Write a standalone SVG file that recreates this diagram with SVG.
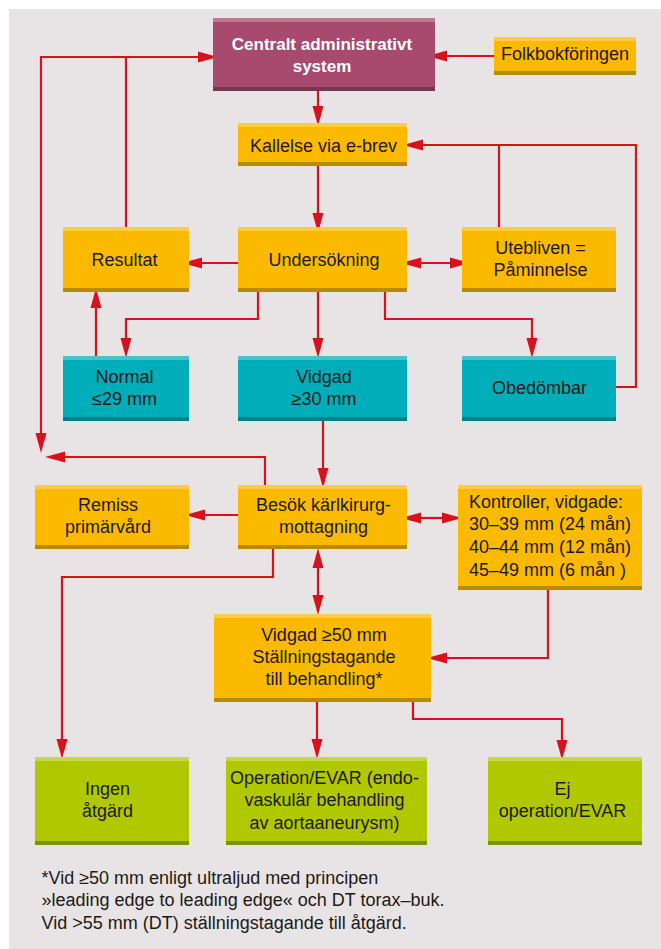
<svg xmlns="http://www.w3.org/2000/svg" width="661" height="949" viewBox="0 0 661 949">
<style>
.bg{fill:#e8e3e4}
.t{font-family:"Liberation Sans",Arial,sans-serif;font-size:18px;fill:#1c1a17;text-anchor:middle}
.tl{text-anchor:start}
.tb{font-weight:bold;font-size:17px;fill:#ffffff}
.y{fill:#fbb900}.yt{fill:#fdcc45}.yb{fill:#b98c00}
.c{fill:#00adb9}.ct{fill:#44c3cc}.cb{fill:#00808a}
.g{fill:#b0c800}.gt{fill:#c6d844}.gb{fill:#7f9300}
.m{fill:#a84a6e}.mt{fill:#c07891}.mb{fill:#7a3550}
.ln{fill:none;stroke:#d7121c;stroke-width:2.2;stroke-linejoin:miter}
.a{marker-end:url(#ah)}
.aa{marker-start:url(#ah);marker-end:url(#ah)}
</style>
<defs>
<marker id="ah" markerUnits="userSpaceOnUse" markerWidth="22" markerHeight="12" refX="2" refY="5.5" orient="auto-start-reverse" viewBox="0 0 22 11">
<path d="M0,0 L20,5.5 L0,11 z" fill="#d7121c"/>
</marker>
</defs>
<rect class="bg" x="9" y="9" width="652" height="940"/>

<g id="connectors">
<path class="ln a" d="M494,56 H445"/>
<path class="ln aa" d="M41,435 V57 H200"/>
<path class="ln" d="M126,227 V57"/>
<path class="ln a" d="M265,485 V457 H63"/>
<path class="ln a" d="M318,91 V108"/>
<path class="ln a" d="M318,166 V215"/>
<path class="ln a" d="M616,387 H636 V145 H421"/>
<path class="ln" d="M499,227 V145"/>
<path class="ln a" d="M238,263 H200"/>
<path class="ln aa" d="M419,263 H452"/>
<path class="ln a" d="M258,292 V319 H126 V340"/>
<path class="ln a" d="M318,292 V340"/>
<path class="ln a" d="M385,292 V319 H532 V340"/>
<path class="ln a" d="M96,356 V306"/>
<path class="ln a" d="M323,421 V470"/>
<path class="ln a" d="M238,515 H203"/>
<path class="ln aa" d="M419,518 H444"/>
<path class="ln a" d="M548,590 V658 H445"/>
<path class="ln aa" d="M318,566 V597"/>
<path class="ln a" d="M273,549 V577 H62 V741"/>
<path class="ln a" d="M317,702 V741"/>
<path class="ln a" d="M413,702 V719 H562 V742"/>
</g>

<g id="central">
<rect class="m" x="213" y="18" width="222" height="73"/>
<rect class="mt" x="213" y="18" width="222" height="4"/>
<rect class="mb" x="213" y="87" width="222" height="4"/>
<text class="t tb" x="322" y="49.5">Centralt administrativt</text>
<text class="t tb" x="322" y="72">system</text>
</g>

<g id="folkbok">
<rect class="y" x="494" y="37" width="142" height="38"/>
<rect class="yt" x="494" y="37" width="142" height="4"/>
<rect class="yb" x="494" y="71" width="142" height="4"/>
<text class="t" x="565" y="59.5">Folkbokföringen</text>
</g>

<g id="kallelse">
<rect class="y" x="238" y="123" width="169" height="43"/>
<rect class="yt" x="238" y="123" width="169" height="4"/>
<rect class="yb" x="238" y="162" width="169" height="4"/>
<text class="t" x="323.5" y="151.5">Kallelse via e-brev</text>
</g>

<g id="resultat">
<rect class="y" x="63" y="227" width="126" height="65"/>
<rect class="yt" x="63" y="227" width="126" height="4"/>
<rect class="yb" x="63" y="288" width="126" height="4"/>
<text class="t" x="124.5" y="265.5">Resultat</text>
</g>

<g id="undersokning">
<rect class="y" x="238" y="227" width="169" height="65"/>
<rect class="yt" x="238" y="227" width="169" height="4"/>
<rect class="yb" x="238" y="288" width="169" height="4"/>
<text class="t" x="324" y="265.5">Undersökning</text>
</g>

<g id="utebliven">
<rect class="y" x="462" y="227" width="154" height="65"/>
<rect class="yt" x="462" y="227" width="154" height="4"/>
<rect class="yb" x="462" y="288" width="154" height="4"/>
<text class="t" x="540.5" y="254">Utebliven =</text>
<text class="t" x="540.5" y="276">Påminnelse</text>
</g>

<g id="normal">
<rect class="c" x="63" y="356" width="126" height="65"/>
<rect class="ct" x="63" y="356" width="126" height="4"/>
<rect class="cb" x="63" y="417" width="126" height="4"/>
<text class="t" x="124.5" y="382.5">Normal</text>
<text class="t" x="124.5" y="405">≤29 mm</text>
</g>

<g id="vidgad">
<rect class="c" x="238" y="356" width="169" height="65"/>
<rect class="ct" x="238" y="356" width="169" height="4"/>
<rect class="cb" x="238" y="417" width="169" height="4"/>
<text class="t" x="324" y="382.5">Vidgad</text>
<text class="t" x="324" y="405">≥30 mm</text>
</g>

<g id="obedombar">
<rect class="c" x="462" y="356" width="154" height="65"/>
<rect class="ct" x="462" y="356" width="154" height="4"/>
<rect class="cb" x="462" y="417" width="154" height="4"/>
<text class="t" x="539.5" y="394">Obedömbar</text>
</g>

<g id="remiss">
<rect class="y" x="35" y="485" width="154" height="64"/>
<rect class="yt" x="35" y="485" width="154" height="4"/>
<rect class="yb" x="35" y="545" width="154" height="4"/>
<text class="t" x="108" y="511">Remiss</text>
<text class="t" x="108" y="532.5">primärvård</text>
</g>

<g id="besok">
<rect class="y" x="238" y="485" width="169" height="64"/>
<rect class="yt" x="238" y="485" width="169" height="4"/>
<rect class="yb" x="238" y="545" width="169" height="4"/>
<text class="t" x="323.5" y="511">Besök kärlkirurg-</text>
<text class="t" x="323.5" y="532.5">mottagning</text>
</g>

<g id="kontroller">
<rect class="y" x="458" y="485" width="184" height="105"/>
<rect class="yt" x="458" y="485" width="184" height="4"/>
<rect class="yb" x="458" y="586" width="184" height="4"/>
<text class="t tl" x="469" y="507.5">Kontroller, vidgade:</text>
<text class="t tl" x="469" y="530">30–39 mm (24 mån)</text>
<text class="t tl" x="469" y="552.5">40–44 mm (12 mån)</text>
<text class="t tl" x="469" y="575.5">45–49 mm (6 mån )</text>
</g>

<g id="vidgad50">
<rect class="y" x="214" y="614" width="217" height="88"/>
<rect class="yt" x="214" y="614" width="217" height="4"/>
<rect class="yb" x="214" y="698" width="217" height="4"/>
<text class="t" x="324" y="640.5">Vidgad ≥50 mm</text>
<text class="t" x="324" y="663">Ställningstagande</text>
<text class="t" x="324" y="684.5">till behandling*</text>
</g>

<g id="ingen">
<rect class="g" x="35" y="757" width="154" height="88"/>
<rect class="gt" x="35" y="757" width="154" height="4"/>
<rect class="gb" x="35" y="841" width="154" height="4"/>
<text class="t" x="107.5" y="795">Ingen</text>
<text class="t" x="107.5" y="817">åtgärd</text>
</g>

<g id="operation">
<rect class="g" x="226" y="757" width="201" height="88"/>
<rect class="gt" x="226" y="757" width="201" height="4"/>
<rect class="gb" x="226" y="841" width="201" height="4"/>
<text class="t" x="324.5" y="784">Operation/EVAR (endo-</text>
<text class="t" x="324.5" y="806">vaskulär behandling</text>
<text class="t" x="324.5" y="828.5">av aortaaneurysm)</text>
</g>

<g id="ej">
<rect class="g" x="488" y="757" width="154" height="88"/>
<rect class="gt" x="488" y="757" width="154" height="4"/>
<rect class="gb" x="488" y="841" width="154" height="4"/>
<text class="t" x="562.5" y="795">Ej</text>
<text class="t" x="562.5" y="817">operation/EVAR</text>
</g>

<g id="footnote">
<text class="t tl" x="41.5" y="883.5">*Vid ≥50 mm enligt ultraljud med principen</text>
<text class="t tl" x="41.5" y="906">»leading edge to leading edge« och DT torax–buk.</text>
<text class="t tl" x="41.5" y="928.5">Vid &gt;55 mm (DT) ställningstagande till åtgärd.</text>
</g>
</svg>
